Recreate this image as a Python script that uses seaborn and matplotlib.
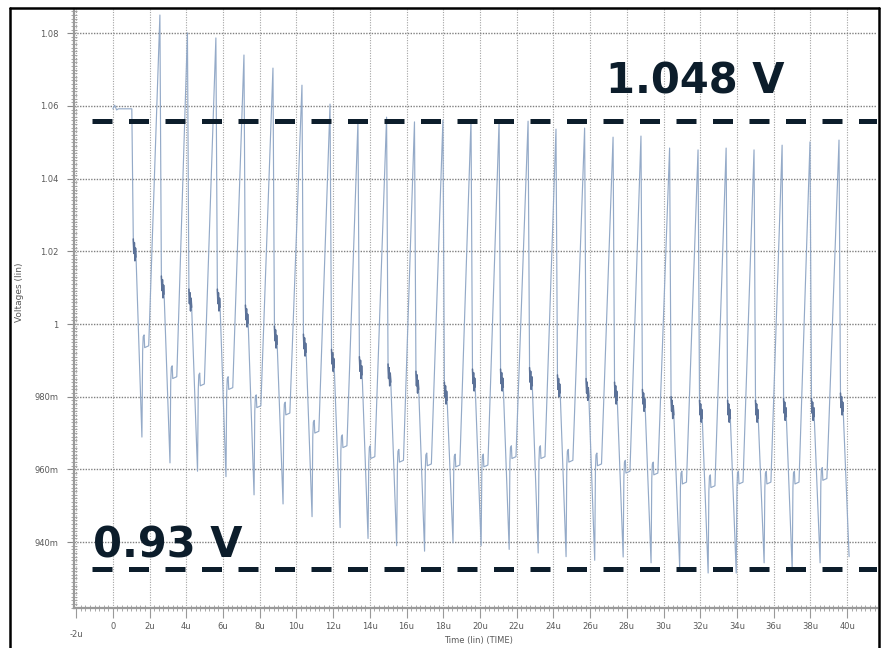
import numpy as np
import pandas as pd
import matplotlib
matplotlib.use("Agg")
import matplotlib.pyplot as plt
import seaborn as sns
from matplotlib.ticker import FixedLocator, FixedFormatter, MultipleLocator
from matplotlib.lines import Line2D

# ---------------- data ----------------
start_level = 1.0592          # V, flat level right after t = 0
start_end = 1.03              # us, end of the flat part
peak_times = [2.56, 4.06, 5.61, 7.14, 8.72, 10.30, 11.83, 13.35, 14.91, 16.43,
              17.98, 19.51, 21.04, 22.62, 24.14, 25.70, 27.25, 28.77, 30.33,
              31.88, 33.41, 34.93, 36.46, 37.98, 39.56]
peak_volts = [1.0850, 1.0801, 1.0787, 1.0740, 1.0704, 1.0657, 1.0605, 1.0556,
              1.0569, 1.0556, 1.0561, 1.0561, 1.0558, 1.0558, 1.0536, 1.0539,
              1.0514, 1.0517, 1.0484, 1.0479, 1.0484, 1.0479, 1.0492, 1.0501,
              1.0506]
ring_volts = [1.0204, 1.0102, 1.0066, 1.0066, 1.0022, 0.9964, 0.9942, 0.9900,
              0.9880, 0.9860, 0.9840, 0.9810, 0.9846, 0.9846, 0.9850, 0.9830,
              0.9820, 0.9810, 0.9790, 0.9770, 0.9760, 0.9760, 0.9760, 0.9765,
              0.9765, 0.9780]
min_volts = [0.9689, 0.9618, 0.9595, 0.9580, 0.9530, 0.9505, 0.9470, 0.9440,
             0.9410, 0.9390, 0.9375, 0.9398, 0.9390, 0.9380, 0.9370, 0.9360,
             0.9350, 0.9359, 0.9343, 0.9329, 0.9315, 0.9315, 0.9343, 0.9323,
             0.9343, 0.9360]
hook_volts = [0.9935, 0.9850, 0.9830, 0.9820, 0.9770, 0.9750, 0.9700, 0.9660,
              0.9630, 0.9620, 0.9610, 0.9607, 0.9607, 0.9630, 0.9630, 0.9620,
              0.9610, 0.9590, 0.9585, 0.9560, 0.9550, 0.9560, 0.9560, 0.9560,
              0.9570]

x_ticks = list(range(-2, 41, 2))
x_tick_labels = ["-2u", "0"] + [f"{v}u" for v in range(2, 41, 2)]
y_ticks = [0.94, 0.96, 0.98, 1.00, 1.02, 1.04, 1.06, 1.08]
y_tick_labels = ["940m", "960m", "980m", "1", "1.02", "1.04", "1.06", "1.08"]

ref_levels = [1.05585, 0.9326]
ref_labels = ["1.048 V", "0.93 V"]
x_label = "Time (lin) (TIME)"
y_label = "Voltages (lin)"

# ---------------- build the waveform table ----------------
tops_t = [start_end] + peak_times
tops_v = [start_level] + peak_volts

main_t, main_v = [0.0, 0.10, 0.20, 0.30], [start_level, 1.0602, 1.0589, start_level]
ring_rows = []
for i in range(len(tops_t)):
    T, V = tops_t[i], tops_v[i]
    vb, vm = ring_volts[i], min_volts[i]
    seq = [(T, V), (T + 0.08, vb + 0.003), (T + 0.11, vb - 0.001),
           (T + 0.14, vb + 0.002), (T + 0.17, vb - 0.003),
           (T + 0.20, vb + 0.0005), (T + 0.23, vb - 0.002), (T + 0.55, vm)]
    for tt, vv in seq[1:7]:
        ring_rows.append((i, tt, vv))
    if i < len(hook_volts):
        vh = hook_volts[i]
        seq += [(T + 0.59, vh - 0.001), (T + 0.62, vh + 0.003),
                (T + 0.67, vh + 0.0035), (T + 0.70, vh), (T + 0.92, vh + 0.0005)]
    for tt, vv in seq:
        main_t.append(tt)
        main_v.append(vv)

df_main = pd.DataFrame({"t": main_t, "v": main_v})
df_ring = pd.DataFrame(ring_rows, columns=["seg", "t", "v"])

# ---------------- figure ----------------
sns.set_style("white")
plt.rcParams["font.family"] = ["DejaVu Sans"]

W, H = 882, 648
fig = plt.figure(figsize=(W / 100, H / 100), dpi=100)
ax = fig.add_axes([74 / W, 1 - 608 / H, (877 - 74) / W, (608 - 9) / H])

sns.lineplot(data=df_main, x="t", y="v", sort=False, estimator=None,
             color="#94aac8", lw=0.85, ax=ax)
sns.lineplot(data=df_ring, x="t", y="v", units="seg", sort=False,
             estimator=None, color="#5c7298", lw=1.1, ax=ax)

ax.set_xlim(-2.12, 41.63)
ax.set_ylim(0.92187, 1.08666)

ax.xaxis.set_major_locator(FixedLocator(x_ticks))
ax.xaxis.set_major_formatter(FixedFormatter(x_tick_labels))
ax.yaxis.set_major_locator(FixedLocator(y_ticks))
ax.yaxis.set_major_formatter(FixedFormatter(y_tick_labels))
ax.xaxis.set_minor_locator(MultipleLocator(0.25))
ax.yaxis.set_minor_locator(MultipleLocator(0.001))

ax.tick_params(axis="x", which="major", direction="out", length=7, width=0.8,
               color="#9a9a9a", labelsize=6, labelcolor="#5a5a5a", pad=3)
ax.tick_params(axis="y", which="major", direction="out", length=5, width=0.8,
               color="#8a8a8a", labelsize=6, labelcolor="#5a5a5a", pad=6)
ax.tick_params(axis="both", which="minor", direction="inout", length=4,
               width=0.6, color="#9a9a9a")
ax.tick_params(bottom=True, left=True, which="both")
ax.xaxis.get_major_ticks()[0].set_pad(9)

ax.xaxis.grid(True, which="major", color="#a3a3a3",
              linestyle=(0, (1, 1.3)), lw=0.8)
ax.yaxis.grid(True, which="major", color="#808080",
              linestyle=(0, (1, 1)), lw=1.0)

for s in ["top", "right"]:
    ax.spines[s].set_visible(False)
for s in ["left", "bottom"]:
    ax.spines[s].set_color("#9a9a9a")
    ax.spines[s].set_linewidth(1.6)

ax.set_xlabel("")
ax.set_ylabel("")
fig.text(478 / W, 1 - 640 / H, x_label, ha="center", va="center",
         fontsize=6, color="#5a5a5a")
fig.text(20 / W, 1 - 292 / H, y_label, ha="center", va="center",
         rotation=90, fontsize=6.5, color="#5a5a5a")

# reference dashed levels and their labels
for lv in ref_levels:
    ax.plot([-1.144, 41.63], [lv, lv], color="#0c1d2b", lw=3.6,
            dashes=(4.0, 3.3), solid_capstyle="butt", dash_capstyle="butt",
            zorder=5, clip_on=True)
ax.text(26.87, 1.06355, ref_labels[0], fontsize=30, fontweight="bold",
        color="#0c1d2b", ha="left", va="baseline", zorder=6)
ax.text(-1.09, 0.9359, ref_labels[1], fontsize=30, fontweight="bold",
        color="#0c1d2b", ha="left", va="baseline", zorder=6)

# screenshot frame
for xs, ys in [([10 / W, 10 / W], [0, 1 - 8 / H]),
               ([10 / W, 879 / W], [1 - 8 / H, 1 - 8 / H]),
               ([879 / W, 879 / W], [0, 1 - 8 / H])]:
    fig.add_artist(Line2D(xs, ys, transform=fig.transFigure,
                          color="black", lw=1.8))

fig.savefig("out.png", dpi=100, facecolor="white")
